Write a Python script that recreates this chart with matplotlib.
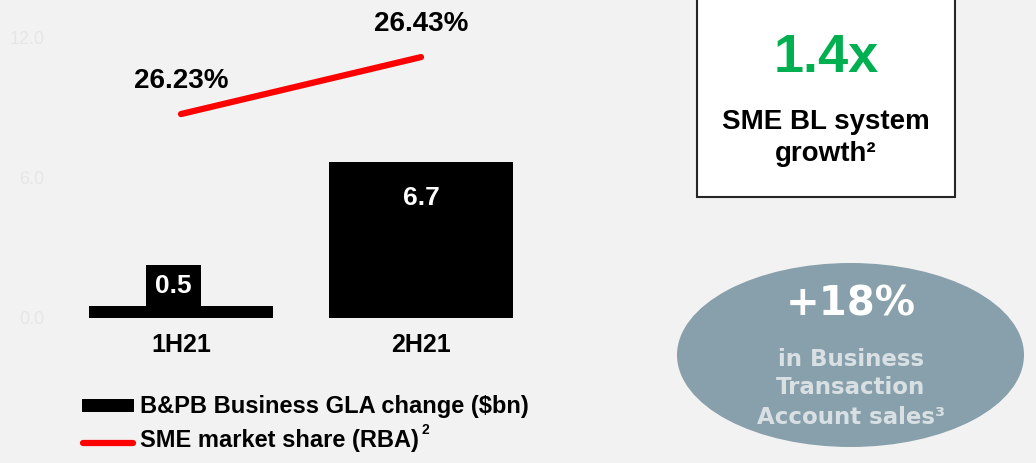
import matplotlib
matplotlib.use("Agg")
import matplotlib.pyplot as plt
from matplotlib.patches import Rectangle, Ellipse
from matplotlib.lines import Line2D

plt.rcParams['font.family'] = ['Liberation Sans', 'DejaVu Sans']

categories = ["1H21", "2H21"]
gla_change = [0.5, 6.7]
gla_labels = ["0.5", "6.7"]
market_share = [26.23, 26.43]
share_labels = ["26.23%", "26.43%"]
y_ticks = [0.0, 6.0, 12.0]
y_ticklabels = ["0.0", "6.0", "12.0"]

W, H = 1036, 463
BG = "#f2f2f2"
fig = plt.figure(figsize=(W / 100, H / 100), dpi=100, facecolor=BG)

def fx(px):
    return px / W

def fy(py):
    return 1 - py / H

# main axes: pixel x 60..540, y 38..318
ax = fig.add_axes([fx(60), fy(318), fx(540) - fx(60), fy(38) - fy(318)])
ax.set_facecolor(BG)
x = list(range(len(categories)))
ax.bar(x, gla_change, width=0.767, color="black", zorder=2)
ax.set_xlim(-121 / 240, 1 + 119 / 240)
ax.set_ylim(0, 12)
for s in ax.spines.values():
    s.set_visible(False)
ax.set_yticks(y_ticks)
ax.set_yticklabels(y_ticklabels, color="#e6e6e6", fontsize=13)
ax.tick_params(axis="y", length=0, pad=11)
ax.set_xticks(x)
ax.set_xticklabels(categories, fontsize=18, fontweight="bold")
ax.tick_params(axis="x", length=0, pad=11)

# bar value labels
px_y = 280 / 12
lab_cx = x[0] - 8 / 240
ax.add_patch(Rectangle((lab_cx - 55 / 480, gla_change[0]), 55 / 240, 41 / px_y,
                       fc="black", ec="none", zorder=3))
ax.text(lab_cx, gla_change[0] + 20.5 / px_y, gla_labels[0], ha="center", va="center",
        color="white", fontsize=19, fontweight="bold", zorder=4)
ax.text(x[1], gla_change[1] - 36 / px_y, gla_labels[1], ha="center", va="center",
        color="white", fontsize=19, fontweight="bold", zorder=3)

# secondary axis for market share
ax2 = ax.twinx()
ax2.set_ylim(25.514, 26.497)
ax2.plot(x, market_share, color="#ff0000", lw=4.5, solid_capstyle="round", zorder=4)
ax2.axis("off")
ax2.set_xlim(ax.get_xlim())
for xi, v, lab in zip(x, market_share, share_labels):
    ax2.text(xi, v + 0.117, lab, ha="center", va="center", fontsize=20,
             fontweight="bold")

# legend (manual)
fig.patches.append(Rectangle((fx(82), fy(412)), fx(134) - fx(82), fy(399) - fy(412),
                             transform=fig.transFigure, fc="black", ec="none"))
fig.lines.append(Line2D([fx(83), fx(133)], [fy(443), fy(443)], transform=fig.transFigure,
                        color="#ff0000", lw=4.5, solid_capstyle="round"))
fig.text(fx(140), fy(406), "B&PB Business GLA change ($bn)", fontsize=17,
         fontweight="bold", va="center", ha="left")
fig.text(fx(140), fy(441), "SME market share (RBA)", fontsize=17,
         fontweight="bold", va="center", ha="left")
fig.text(fx(421), fy(430), "2", fontsize=10, fontweight="bold", va="center", ha="left")

# white box
fig.patches.append(Rectangle((fx(697), fy(197)), fx(955) - fx(697), fy(-5) - fy(197),
                             transform=fig.transFigure, fc="white", ec="#262626", lw=1.5))
fig.text(fx(826), fy(58), "1.4x", color="#00b050", fontsize=39, fontweight="bold",
         ha="center", va="center")
fig.text(fx(826), fy(122), "SME BL system", fontsize=20, fontweight="bold",
         ha="center", va="center")
fig.text(fx(826), fy(154), "growth²", fontsize=20, fontweight="bold",
         ha="center", va="center")

# ellipse
fig.patches.append(Ellipse((fx(850.5), fy(355)), fx(347), 184 / H,
                           transform=fig.transFigure, fc="#87a0ab", ec="none"))
fig.text(fx(851), fy(305), "+18%", color="white", fontsize=29, fontweight="bold",
         ha="center", va="center", family="DejaVu Sans")
light = "#d8e0e4"
for yy, t in [(360, "in Business"), (388, "Transaction"), (417, "Account sales³")]:
    fig.text(fx(851), fy(yy), t, color=light, fontsize=16.5, fontweight="bold",
             ha="center", va="center", family="DejaVu Sans")

fig.savefig("out.png", dpi=100, facecolor=BG)
